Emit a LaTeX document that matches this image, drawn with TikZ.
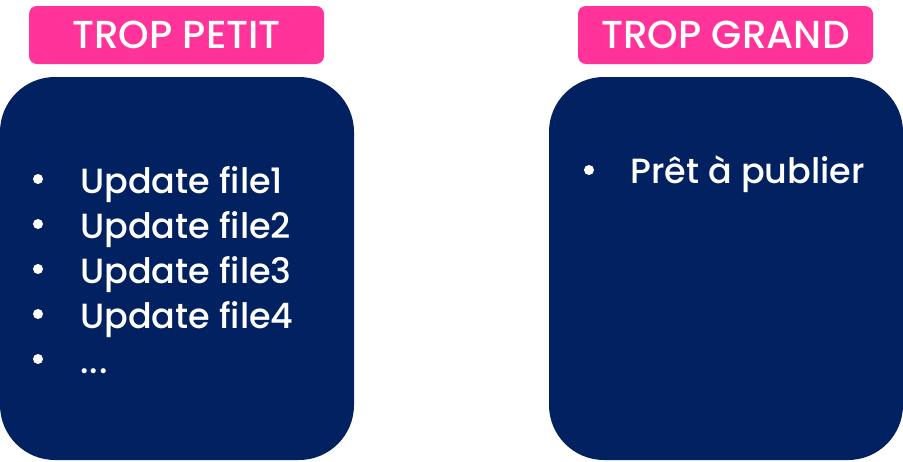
\documentclass[tikz,border=0pt]{standalone}
\usepackage{fontspec}
\setmainfont{Poppins}
\newfontfamily\tagfont{Poppins Medium}
\newfontfamily\itemfont{Poppins Medium}
\definecolor{tagpink}{HTML}{FF3399}
\definecolor{panelnavy}{HTML}{022160}
\begin{document}
\begin{tikzpicture}[x=1pt,y=-1pt,
  tag/.style={fill=tagpink, rounded corners=8pt, minimum width=295pt, minimum height=58pt,
    inner sep=0pt, text=white, font=\tagfont\fontsize{39}{42}\selectfont},
  panel/.style={fill=panelnavy, rounded corners=55pt, minimum width=354pt, minimum height=383pt, inner sep=0pt},
  item/.style={anchor=base west, inner sep=0pt, text=white, font=\itemfont\fontsize{35}{38}\selectfont},
  dot/.style={circle, fill=white, minimum size=10pt, inner sep=0pt}]
\useasboundingbox (0,0) rectangle (903,461);
% left column
\node[tag] (tagL) at (176.5,35) {TROP PETIT};
\node[panel] (boxL) at (177,268.5) {};
\foreach \i in {1,2,3,4}{
  \node[item] (itemL\i) at (80,{193+45*(\i-1)}) {Update file\i};
  \node[dot] (dotL\i) at (38,{179+45*(\i-1)}) {};
}
\node[item] (itemL5) at (80,373) {.\kern1pt.\kern1pt.};
\node[dot] (dotL5) at (38,359) {};
% right column
\node[tag] (tagR) at (725.5,35) {TROP GRAND};
\node[panel] (boxR) at (726,268.5) {};
\node[item] (itemR1) at (630,183) {Prêt à publier};
\node[dot] (dotR1) at (589,170) {};
\end{tikzpicture}
\end{document}
